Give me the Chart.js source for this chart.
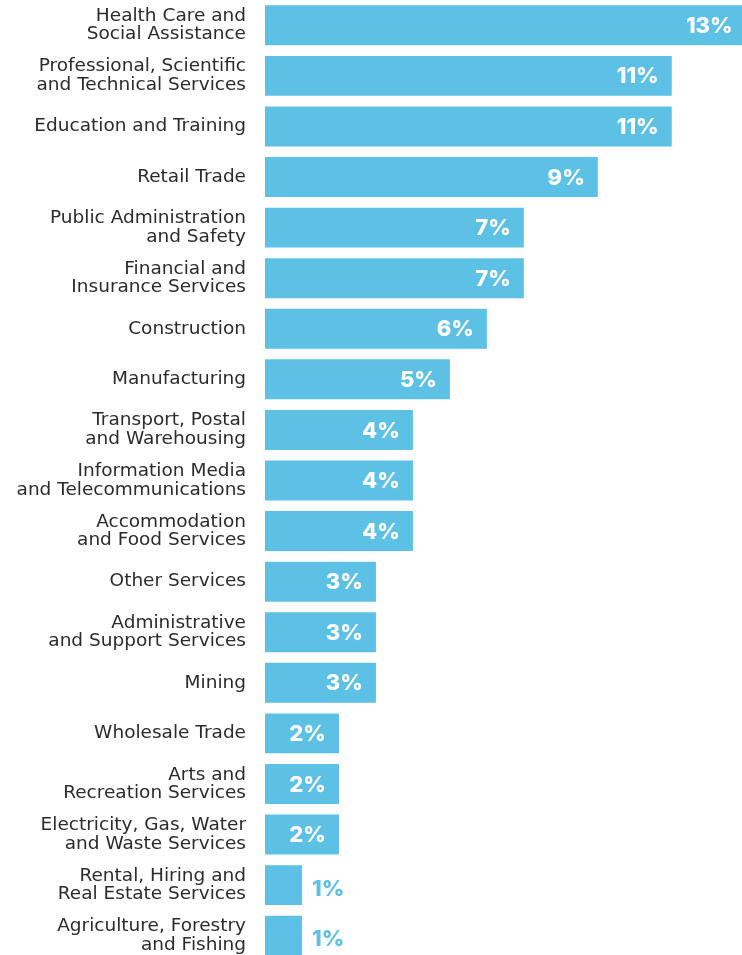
<!DOCTYPE html>
<html>
<head>
<meta charset="utf-8">
<script src="https://cdn.jsdelivr.net/npm/chart.js@4"></script>
<style>
  html, body { margin: 0; padding: 0; background: #fff; overflow: hidden; }
  #wrap { width: 742px; height: 961px; }
</style>
</head>
<body>
<div id="wrap"><canvas id="barChart" width="742" height="961"></canvas></div>
<script>
// industries, top to bottom
const industries = [
  ['Health Care and', 'Social Assistance'],
  ['Professional, Scientific', 'and Technical Services'],
  'Education and Training',
  'Retail Trade',
  ['Public Administration', 'and Safety'],
  ['Financial and', 'Insurance Services'],
  'Construction',
  'Manufacturing',
  ['Transport, Postal', 'and Warehousing'],
  ['Information Media', 'and Telecommunications'],
  ['Accommodation', 'and Food Services'],
  'Other Services',
  ['Administrative', 'and Support Services'],
  'Mining',
  'Wholesale Trade',
  ['Arts and', 'Recreation Services'],
  ['Electricity, Gas, Water', 'and Waste Services'],
  ['Rental, Hiring and', 'Real Estate Services'],
  ['Agriculture, Forestry', 'and Fishing']
];
const shares = [13, 11, 11, 9, 7, 7, 6, 5, 4, 4, 4, 3, 3, 3, 2, 2, 2, 1, 1];

const barColor = '#5DC1E6';

// draw the % value on / next to each bar
const valueLabels = {
  id: 'valueLabels',
  afterDatasetsDraw(chart) {
    const ctx = chart.ctx;
    const meta = chart.getDatasetMeta(0);
    ctx.save();
    ctx.font = '800 22px Inter, sans-serif';
    ctx.textBaseline = 'middle';
    meta.data.forEach((bar, i) => {
      const v = shares[i];
      const txt = v + '%';
      if (v >= 2) {
        ctx.fillStyle = '#ffffff';
        ctx.textAlign = 'right';
        ctx.fillText(txt, bar.x - 13, bar.y + 1);
      } else {
        ctx.fillStyle = barColor;
        ctx.textAlign = 'left';
        ctx.fillText(txt, bar.x + 10, bar.y + 4);
      }
    });
    ctx.restore();
  }
};

new Chart(document.getElementById('barChart').getContext('2d'), {
  type: 'bar',
  data: {
    labels: industries,
    datasets: [{
      data: shares,
      backgroundColor: barColor,
      borderWidth: 0,
      barPercentage: 0.79,
      categoryPercentage: 1.0
    }]
  },
  options: {
    indexAxis: 'y',
    responsive: false,
    animation: false,
    layout: { padding: 0 },
    plugins: {
      legend: { display: false },
      tooltip: { enabled: false }
    },
    scales: {
      x: {
        display: false,
        min: 0,
        max: 12.9
      },
      y: {
        grid: { display: false, drawTicks: false },
        border: { display: false },
        afterFit: (scale) => {
          scale.width = 265;
          // no extra room for the first / last label
          scale.paddingTop = 0;
          scale.paddingBottom = 0;
        },
        ticks: {
          color: '#2b2b2b',
          padding: 19,
          autoSkip: false,
          font: { family: 'DejaVu Sans', size: 18.5, lineHeight: 1.0 }
        }
      }
    }
  },
  plugins: [valueLabels]
});
</script>
</body>
</html>
